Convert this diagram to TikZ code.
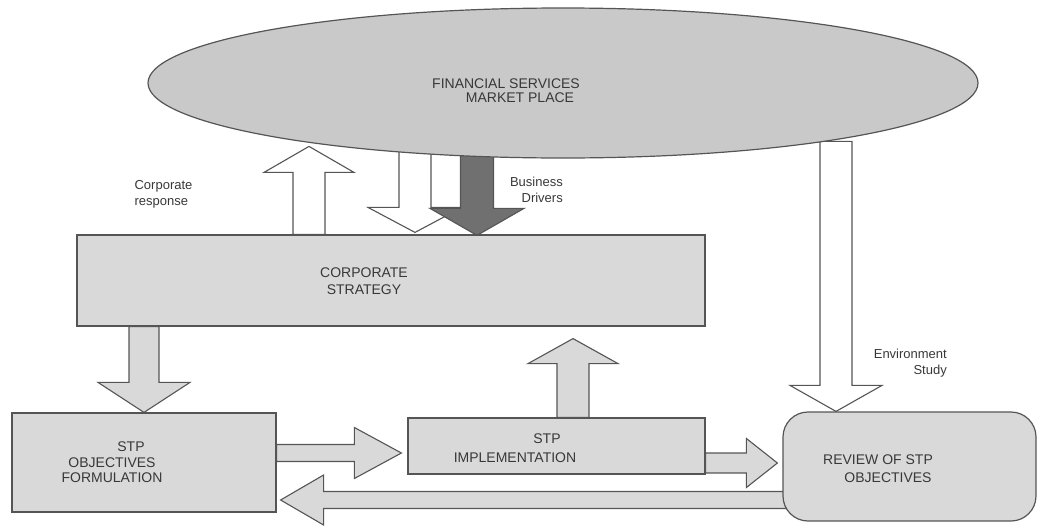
\documentclass[tikz,border=0pt]{standalone}
\usepackage{fontspec}
\setmainfont{Liberation Sans}
\usepackage{xcolor}
\usepackage{tikz}
\usetikzlibrary{calc, positioning, shapes}
\pgfdeclarelayer{background}
\pgfsetlayers{background,main}

\definecolor{boxgray}{HTML}{D9D9D9}
\definecolor{ovalgray}{HTML}{C9C9C9}
\definecolor{linegray}{HTML}{555555}
\definecolor{drivergray}{HTML}{707070}
\definecolor{txtgray}{HTML}{383838}

% block arrow: [style] {from} {to} {shaft half width} {head half width} {head length}
\newcommand{\blockarrow}[6][]{%
	\coordinate (bah) at ($(#3)!#6pt!(#2)$);
	\draw[bigarrow, #1] ($(#2)!#4pt!90:(#3)$) -- ($(bah)!#4pt!90:(#3)$) -- ($(bah)!#5pt!90:(#3)$) -- (#3)
		-- ($(bah)!#5pt!-90:(#3)$) -- ($(bah)!#4pt!-90:(#3)$) -- ($(#2)!#4pt!-90:(#3)$) -- cycle;
}

\begin{document}
\begin{tikzpicture}[x=1pt, y=-1pt]
	\tikzstyle{stpbox}=[draw=linegray, fill=boxgray, line width=1.2pt, inner sep=0pt]
	\tikzstyle{boxtext}=[text=txtgray, align=center, inner sep=0pt, font=\fontsize{14}{17}\selectfont]
	\tikzstyle{sidetext}=[text=txtgray, inner sep=0pt, font=\fontsize{13}{16}\selectfont]
	\tikzstyle{bigarrow}=[draw=linegray, line width=1.1pt, fill=boxgray, line join=miter]
	
	\useasboundingbox (0,0) rectangle (1038,525);
	
	\node (market) at (563,83) [stpbox, ellipse, fill=ovalgray, minimum width=830pt, minimum height=150pt] {};
	\node (corp) at (391,280.5) [stpbox, minimum width=628pt, minimum height=91pt] {};
	\node (form) at (144,462.5) [stpbox, minimum width=264pt, minimum height=99pt] {};
	\node (impl) at (556.5,446) [stpbox, minimum width=297pt, minimum height=56pt] {};
	\node (review) at (909.5,466.5) [stpbox, rounded corners=25pt, minimum width=253pt, minimum height=109pt] {};
	
	\node (markettxt) [boxtext, font=\fontsize{14}{14}\selectfont] at ($(market.center)+(-57,8)$) {FINANCIAL SERVICES\\\hspace*{28pt}MARKET PLACE};
	\node (corptxt) [boxtext] at ($(corp.center)+(-27,0.5)$) {CORPORATE\\STRATEGY};
	\node (formtxt) [boxtext, font=\fontsize{14}{15.5}\selectfont] at ($(form.center)+(-32,0)$) {\hspace*{38pt}STP\\OBJECTIVES\\FORMULATION};
	\node (impltxt) [boxtext, font=\fontsize{14}{19}\selectfont] at ($(impl.center)+(-41.5,2)$) {\hspace*{64pt}STP\\IMPLEMENTATION};
	\node (reviewtxt) [boxtext, font=\fontsize{14}{18}\selectfont] at ($(review.center)+(-31.5,2.5)$) {REVIEW OF STP\\\hspace*{20pt}OBJECTIVES};
	
	% arrow ends
	\coordinate (resp0) at ($(corp.north)+(-82,0)$);
	\coordinate (resp1) at ($(corp.north)+(-82,-88)$);
	\coordinate (down0) at ($(corp.north)+(24,-90)$);
	\coordinate (down1) at ($(corp.north)+(24,-2)$);
	\coordinate (drv0) at ($(corp.north)+(86,-88)$);
	\coordinate (drv1) at ($(corp.north)+(86,1)$);
	\coordinate (env0) at ($(review.north)+(-73.5,-270)$);
	\coordinate (env1) at (review.north -| env0);
	\coordinate (plan0) at (corp.south -| form.north);
	\coordinate (plan1) at (form.north);
	\coordinate (back0) at ($(impl.north)+(16.5,0)$);
	\coordinate (back1) at ($(corp.south -| back0)+(0,12)$);
	\coordinate (go0) at ($(form.east)+(0,-9.5)$);
	\coordinate (go1) at ($(impl.west)+(-6,7)$);
	\coordinate (rev0) at ($(impl.east)+(0,17)$);
	\coordinate (rev1) at ($(review.west)+(-5,-3.5)$);
	\coordinate (fb0) at ($(review.west)+(10,33.5)$);
	\coordinate (fb1) at ($(form.east)+(4,37.5)$);
	
	\begin{pgfonlayer}{background}
		\blockarrow[fill=white]{resp0}{resp1}{16}{45}{26}
		\blockarrow[fill=white]{down0}{down1}{16}{47}{25}
		\blockarrow[fill=drivergray]{drv0}{drv1}{16.5}{47}{27}
		\blockarrow[fill=white]{env0}{env1}{16}{46}{26}
		\blockarrow{plan0}{plan1}{15}{46}{30}
		\blockarrow{back0}{back1}{16}{45}{25}
		\blockarrow{go0}{go1}{8.5}{25.5}{47}
		\blockarrow{rev0}{rev1}{10}{24.5}{31}
		\blockarrow{fb0}{fb1}{8.5}{25}{43}
	\end{pgfonlayer}
	
	\node (resptxt) [sidetext, anchor=west, align=left] at ($(corp.north west)+(58,-40)$) {Corporate\\response};
	\node (drvtxt) [sidetext, anchor=east, align=right] at ($(corp.north)+(172,-45)$) {Business\\Drivers};
	\node (envtxt) [sidetext, anchor=east, align=right] at ($(review.north)+(37.5,-48)$) {Environment\\Study};
\end{tikzpicture}
\end{document}
